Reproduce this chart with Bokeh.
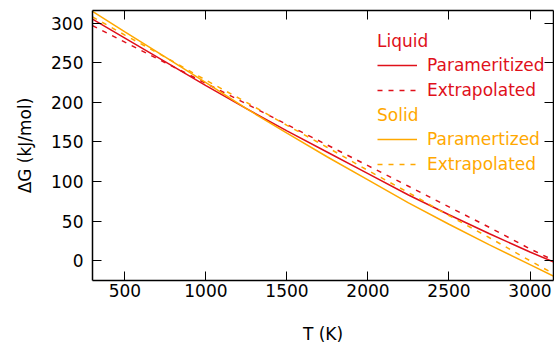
from bokeh.plotting import figure
from bokeh.models import Range1d, LinearAxis, Legend, LegendItem, FixedTicker
from bokeh.embed import file_html
from bokeh.resources import INLINE

# Data
T = [300, 500, 750, 1000, 1250, 1500, 1750, 2000, 2250, 2500, 2750, 3000, 3150]
liquid_param = [305, 281, 251, 221, 192, 164, 137, 110, 83, 58, 34, 11, -2]
liquid_extrap = [297, 276, 250, 224, 198, 172, 146, 120, 94, 68, 42, 15, 0]
solid_param = [315, 289, 257, 225, 192, 161, 131, 102, 73, 46, 20, -5, -20]
solid_extrap = [308, 285, 257, 228, 200, 171, 143, 114, 86, 57, 29, 0, -17]

x_ticks = [500, 1000, 1500, 2000, 2500, 3000]
y_ticks = [0, 50, 100, 150, 200, 250, 300]

RED = "#e0101a"
ORANGE = "#ffa800"
FONT = "DejaVu Sans"
FS = "17px"

p = figure(width=554, height=346, output_backend="svg", toolbar_location=None,
           x_range=Range1d(300, 3145), y_range=Range1d(-25, 316),
           min_border_left=92, min_border_right=1, min_border_top=10, min_border_bottom=66)
p.outline_line_color = None
p.grid.visible = False
p.background_fill_color = "white"

r1 = p.line(T, liquid_param, line_color=RED, line_width=1.5)
r2 = p.line(T, liquid_extrap, line_color=RED, line_width=1.5, line_dash="5 6")
r3 = p.line(T, solid_param, line_color=ORANGE, line_width=1.5)
r4 = p.line(T, solid_extrap, line_color=ORANGE, line_width=1.5, line_dash="5 6")

def style_axis(ax, labels=True):
    ax.axis_line_color = "black"
    ax.axis_line_width = 1.5
    ax.major_tick_line_color = "black"
    ax.major_tick_line_width = 1
    ax.major_tick_in = 9
    ax.major_tick_out = 0
    ax.minor_tick_line_color = None
    ax.major_label_text_font = FONT
    ax.major_label_text_font_size = FS
    ax.major_label_text_color = "black"
    ax.axis_label_text_font = FONT
    ax.axis_label_text_font_size = FS
    ax.axis_label_text_font_style = "normal"
    ax.axis_label_text_color = "black"
    if not labels:
        ax.major_label_text_color = None
        ax.major_label_text_font_size = "1px"
        ax.major_label_standoff = 0

xa = p.xaxis[0]
xa.ticker = FixedTicker(ticks=x_ticks)
style_axis(xa)
xa.axis_label = "T (K)"
xa.major_label_standoff = 3
xa.axis_label_standoff = 24

ya = p.yaxis[0]
ya.ticker = FixedTicker(ticks=y_ticks)
style_axis(ya)
ya.axis_label = "ΔG (kJ/mol)"
ya.major_label_standoff = 9
ya.axis_label_standoff = 13

top = LinearAxis(ticker=FixedTicker(ticks=x_ticks))
style_axis(top, labels=False)
p.add_layout(top, "above")
right = LinearAxis(ticker=FixedTicker(ticks=y_ticks))
style_axis(right, labels=False)
p.add_layout(right, "right")

def make_legend(title, color, items, loc):
    lg = Legend(items=items, title=title, location=loc)
    lg.title_text_color = color
    lg.title_text_font = FONT
    lg.title_text_font_size = FS
    lg.title_text_font_style = "normal"
    lg.title_standoff = 3
    lg.label_text_color = color
    lg.label_text_font = FONT
    lg.label_text_font_size = FS
    lg.label_standoff = 10
    lg.label_height = 22
    lg.glyph_height = 22
    lg.glyph_width = 40
    lg.spacing = 3
    lg.padding = 0
    lg.margin = 0
    lg.border_line_alpha = 0
    lg.background_fill_alpha = 0
    return lg

leg1 = make_legend("Liquid", RED,
                   [LegendItem(label="Parameritized", renderers=[r1]),
                    LegendItem(label="Extrapolated", renderers=[r2])], (285, 179))
leg2 = make_legend("Solid", ORANGE,
                   [LegendItem(label="Paramertized", renderers=[r3]),
                    LegendItem(label="Extrapolated", renderers=[r4])], (285, 105))
p.add_layout(leg1)
p.add_layout(leg2)

open("out.html", "w").write(file_html(p, INLINE))
